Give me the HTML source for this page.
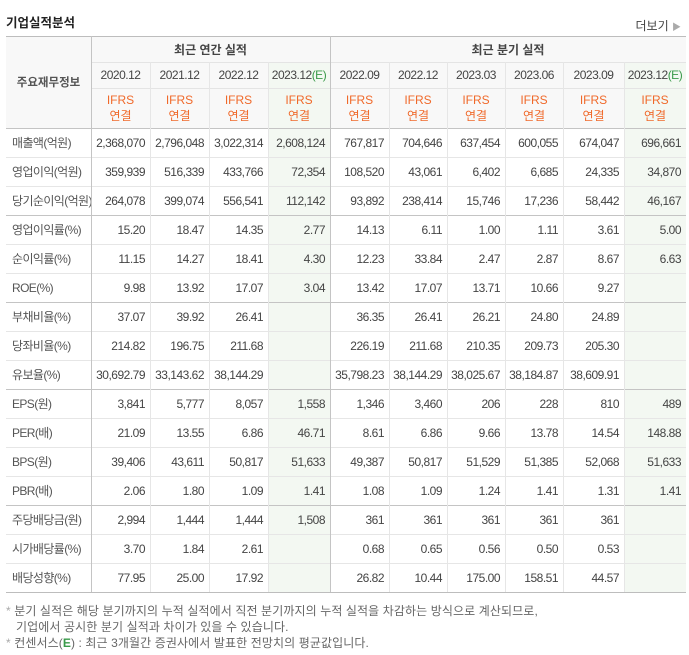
<!DOCTYPE html>
<html><head><meta charset="utf-8">
<style>
body{margin:0;background:#fff;width:689px;height:655px;overflow:hidden;font-family:"Liberation Sans","Noto Sans CJK KR","NanumGothic",sans-serif;color:#444;position:relative}
.c{position:absolute;box-sizing:border-box;font-size:12px;white-space:nowrap}
.title{position:absolute;left:6px;top:12px;font-size:12.5px;font-weight:bold;color:#222}
.more{position:absolute;right:8px;top:17px;font-size:12px;color:#444}
.hl{position:absolute;height:1px}
.vl{position:absolute;width:1px}
.note{position:absolute;left:6px;font-size:12px;color:#666;letter-spacing:0.1px}
</style></head><body>
<div class="title">기업실적분석</div>
<div class="more">더보기 <span style="color:#aaa;font-size:9px">▶</span></div>
<div id="tbl"></div>
<div class="note" style="top:602px"><span style="color:#aaa">*</span> 분기 실적은 해당 분기까지의 누적 실적에서 직전 분기까지의 누적 실적을 차감하는 방식으로 계산되므로,</div>
<div class="note" style="top:618px;left:16px">기업에서 공시한 분기 실적과 차이가 있을 수 있습니다.</div>
<div class="note" style="top:634px"><span style="color:#aaa">*</span> 컨센서스(<span style="color:#3a9a4a;font-weight:bold">E</span>) : 최근 3개월간 증권사에서 발표한 전망치의 평균값입니다.</div>
<script>
const periods=["2020.12","2021.12","2022.12","2023.12","2022.09","2022.12","2023.03","2023.06","2023.09","2023.12"];
const labels=["매출액(억원)","영업이익(억원)","당기순이익(억원)","영업이익률(%)","순이익률(%)","ROE(%)","부채비율(%)","당좌비율(%)","유보율(%)","EPS(원)","PER(배)","BPS(원)","PBR(배)","주당배당금(원)","시가배당률(%)","배당성향(%)"];
const values=[
["2,368,070","2,796,048","3,022,314","2,608,124","767,817","704,646","637,454","600,055","674,047","696,661"],
["359,939","516,339","433,766","72,354","108,520","43,061","6,402","6,685","24,335","34,870"],
["264,078","399,074","556,541","112,142","93,892","238,414","15,746","17,236","58,442","46,167"],
["15.20","18.47","14.35","2.77","14.13","6.11","1.00","1.11","3.61","5.00"],
["11.15","14.27","18.41","4.30","12.23","33.84","2.47","2.87","8.67","6.63"],
["9.98","13.92","17.07","3.04","13.42","17.07","13.71","10.66","9.27",""],
["37.07","39.92","26.41","","36.35","26.41","26.21","24.80","24.89",""],
["214.82","196.75","211.68","","226.19","211.68","210.35","209.73","205.30",""],
["30,692.79","33,143.62","38,144.29","","35,798.23","38,144.29","38,025.67","38,184.87","38,609.91",""],
["3,841","5,777","8,057","1,558","1,346","3,460","206","228","810","489"],
["21.09","13.55","6.86","46.71","8.61","6.86","9.66","13.78","14.54","148.88"],
["39,406","43,611","50,817","51,633","49,387","50,817","51,529","51,385","52,068","51,633"],
["2.06","1.80","1.09","1.41","1.08","1.09","1.24","1.41","1.31","1.41"],
["2,994","1,444","1,444","1,508","361","361","361","361","361",""],
["3.70","1.84","2.61","","0.68","0.65","0.56","0.50","0.53",""],
["77.95","25.00","17.92","","26.82","10.44","175.00","158.51","44.57",""]];
const colX=[6,91,150,209,268,330,389,447,505,563,624,686];
const T=36,H1=62,H2=88,H3=128,RH=29,groupEnds=[2,5,8,12];
const root=document.getElementById('tbl');
function box(x,y,w,h,bg,html,cls){const d=document.createElement('div');d.className='c';d.style.cssText=`left:${x}px;top:${y}px;width:${w}px;height:${h}px;background:${bg||'transparent'};`+(cls||'');d.innerHTML=html||'';root.appendChild(d);return d;}
const hbg='#f8f8f8',gbg='#f3f8f2';
let d=box(colX[0],T,colX[1]-colX[0],H3-T,hbg,'주요재무정보','display:flex;align-items:center;justify-content:center;color:#555;font-weight:bold;font-size:11.5px');

d=box(colX[1],T,colX[5]-colX[1],H1-T,hbg,'최근 연간 실적','display:flex;align-items:center;justify-content:center;font-weight:bold;color:#444');

d=box(colX[5],T,colX[11]-colX[5],H1-T,hbg,'최근 분기 실적','display:flex;align-items:center;justify-content:center;font-weight:bold;color:#444');

for(let i=0;i<10;i++){
 const est=(i===3||i===9);const bg=est?gbg:hbg;const x=colX[i+1],w=colX[i+2]-x;
 d=box(x,H1,w,H2-H1,bg,periods[i]+(est?'<span style="color:#3a9a4a">(E)</span>':''),'display:flex;align-items:center;justify-content:center;color:#444;letter-spacing:-0.5px');
 
 d=box(x,H2,w,H3-H2,bg,'IFRS<br>연결','display:flex;align-items:center;justify-content:center;text-align:center;color:#f0692a;line-height:16px');
 
}
for(let r=0;r<labels.length;r++){
 const y=H3+r*RH;
 d=box(colX[0],y,colX[1]-colX[0],RH,'',labels[r],'display:flex;align-items:center;padding-left:6px;color:#555;letter-spacing:-0.6px');
 
 for(let i=0;i<10;i++){
  const est=(i===3||i===9);const x=colX[i+1],w=colX[i+2]-x;
  d=box(x,y,w,RH,est?gbg:'',values[r][i],'display:flex;align-items:center;justify-content:flex-end;padding-right:5px;color:#444;font-size:12px;letter-spacing:-0.5px');
  
 }
}
function hl(y,x1,x2,c){const e=document.createElement('div');e.className='hl';e.style.cssText=`left:${x1}px;top:${y}px;width:${x2-x1}px;background:${c}`;root.appendChild(e);}
function vl(x,y1,y2,c){const e=document.createElement('div');e.className='vl';e.style.cssText=`left:${x}px;top:${y1}px;height:${y2-y1}px;background:${c}`;root.appendChild(e);}
const END=H3+labels.length*RH;
hl(T,colX[0],colX[11],'#bdbdbd');
hl(H1,colX[1],colX[11],'#e4e4e4');hl(H2,colX[1],colX[11],'#e4e4e4');
hl(H3,colX[0],colX[11],'#c4c4c4');
for(let r=1;r<labels.length;r++){const c=groupEnds.includes(r-1)?'#c4c4c4':'#e6e6e6';hl(H3+r*RH,colX[0],colX[11],c);}
hl(END,colX[0],colX[11],'#bdbdbd');
vl(colX[1],T,END,'#c4c4c4');vl(colX[5],T,END,'#c4c4c4');
for(let i=2;i<11;i++){if(i!==5)vl(colX[i],H1,END,'#e6e6e6');}
</script>
</body></html>
